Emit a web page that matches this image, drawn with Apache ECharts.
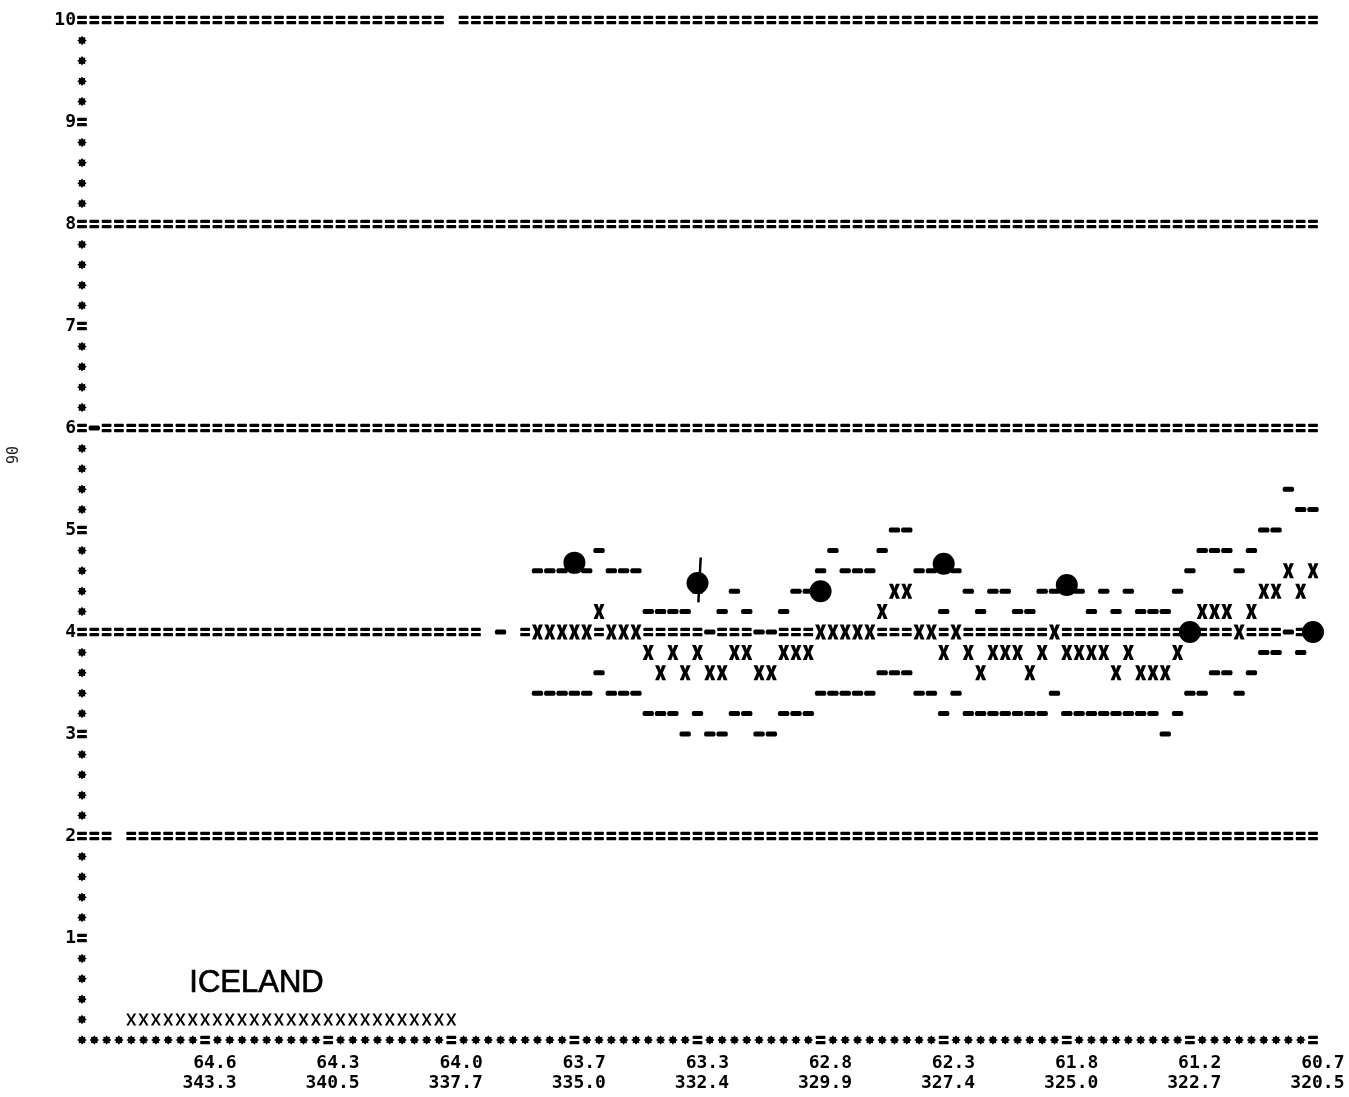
<!DOCTYPE html>
<html>
<head>
<meta charset="utf-8">
<title>ICELAND</title>
<script src="https://cdn.jsdelivr.net/npm/echarts/dist/echarts.min.js"></script>
<style>
  html, body { margin: 0; padding: 0; background: #fff; }
  #chart { width: 1349px; height: 1097px; }
</style>
</head>
<body>
<div id="chart"></div>
<script>
// ---- track positions (printer columns) and their lat / lon labels ----
const tickCols = [10, 20, 30, 40, 50, 60, 70, 80, 90, 100];
const tickLat = ['64.6', '64.3', '64.0', '63.7', '63.3', '62.8', '62.3', '61.8', '61.2', '60.7'];
const tickLon = ['343.3', '340.5', '337.7', '335.0', '332.4', '329.9', '327.4', '325.0', '322.7', '320.5'];

// ---- computed profile, one value per printer column from firstCol onward ----
const firstCol = 37;
const meanVals = [
  4.0, 4.0, 4.0, 4.0, 4.0, 4.2, 4.0, 4.0, 4.0, 3.8,
  3.6, 3.8, 3.6, 3.8, 3.6, 3.6, 3.8, 3.8, 3.6, 3.6,
  3.8, 3.8, 3.8, 4.0, 4.0, 4.0, 4.0, 4.0, 4.2, 4.4,
  4.4, 4.0, 4.0, 3.8, 4.0, 3.8, 3.6, 3.8, 3.8, 3.8,
  3.6, 3.8, 4.0, 3.8, 3.8, 3.8, 3.8, 3.6, 3.8, 3.6,
  3.6, 3.6, 3.8, 4.0, 4.2, 4.2, 4.2, 4.0, 4.2, 4.4,
  4.4, 4.6, 4.4, 4.6
];
const upperVals = [
  4.6, 4.6, 4.6, 4.6, 4.6, 4.8, 4.6, 4.6, 4.6, 4.2,
  4.2, 4.2, 4.2, 4.4, 4.0, 4.2, 4.4, 4.2, 4.0, 4.0,
  4.2, 4.4, 4.4, 4.6, 4.8, 4.6, 4.6, 4.6, 4.8, 5.0,
  5.0, 4.6, 4.6, 4.2, 4.6, 4.4, 4.2, 4.4, 4.4, 4.2,
  4.2, 4.4, 4.4, 4.4, 4.4, 4.2, 4.4, 4.2, 4.4, 4.2,
  4.2, 4.2, 4.4, 4.6, 4.8, 4.8, 4.8, 4.6, 4.8, 5.0,
  5.0, 5.4, 5.2, 5.2
];
const lowerVals = [
  3.4, 3.4, 3.4, 3.4, 3.4, 3.6, 3.4, 3.4, 3.4, 3.2,
  3.2, 3.2, 3.0, 3.2, 3.0, 3.0, 3.2, 3.2, 3.0, 3.0,
  3.2, 3.2, 3.2, 3.4, 3.4, 3.4, 3.4, 3.4, 3.6, 3.6,
  3.6, 3.4, 3.4, 3.2, 3.4, 3.2, 3.2, 3.2, 3.2, 3.2,
  3.2, 3.2, 3.4, 3.2, 3.2, 3.2, 3.2, 3.2, 3.2, 3.2,
  3.2, 3.0, 3.2, 3.4, 3.4, 3.6, 3.6, 3.4, 3.6, 3.8,
  3.8, 4.0, 3.8, 4.0
];

// ---- measured values at the labelled stations ----
const obsCols = [40, 50, 60, 70, 80, 90, 100];
const obsVals = [4.68, 4.48, 4.40, 4.67, 4.46, 4.00, 4.00];

// pen stroke through the 63.3 N station
const penStroke = [[50.26, 4.73], [50.07, 4.29]];

// ---- land strip (Iceland) printed as a run of x's ----
const landFrom = 4;
const landTo = 30;
const landRow = 0.2;

// ---- page frame: ruled rows of '=' and the few dropped / half-struck characters ----
const ruleRows = [2, 4, 6, 8, 10];
const ruleGaps = [[30, 10], [3, 2], [33, 4], [35, 4]];   // [column, value]
const halfStruck = [[1, 6], [34, 4]];                    // [column, value]

const ROWS_PER_UNIT = 5;   // one printer line = 0.2
const LAST_COL = 100;

// ---- build the character grid ----
const cells = new Map();
const rowOf = v => Math.round(v * ROWS_PER_UNIT);
const key = (c, r) => c + ',' + r;
const put = (c, r, ch) => cells.set(key(c, r), { c, r, ch });

for (let r = 1; r <= 10 * ROWS_PER_UNIT; r++) put(0, r, r % ROWS_PER_UNIT === 0 ? '=' : '*');
for (let c = 0; c <= LAST_COL; c++) put(c, 0, c > 0 && c % 10 === 0 ? '=' : '*');
ruleRows.forEach(v => { for (let c = 0; c <= LAST_COL; c++) put(c, rowOf(v), '='); });
ruleGaps.forEach(([c, v]) => cells.delete(key(c, rowOf(v))));
halfStruck.forEach(([c, v]) => put(c, rowOf(v), '-'));
meanVals.forEach((m, i) => {
  const c = firstCol + i;
  put(c, rowOf(upperVals[i]), '-');
  put(c, rowOf(lowerVals[i]), '-');
  put(c, rowOf(m), 'X');
});

const byChar = { '=': [], '*': [], '-': [], 'X': [] };
cells.forEach(({ c, r, ch }) => byChar[ch].push([c, r / ROWS_PER_UNIT]));

const landPts = [];
for (let c = landFrom; c <= landTo; c++) landPts.push([c, landRow]);

// ---- glyph shapes for the printer characters ----
const EQ = 'path://M0.8,0 L9.2,0 Q10,0 10,1.6 Q10,3.2 9.2,3.2 L0.8,3.2 Q0,3.2 0,1.6 Q0,0 0.8,0 Z' +
           'M0.8,5.3 L9.2,5.3 Q10,5.3 10,6.9 Q10,8.5 9.2,8.5 L0.8,8.5 Q0,8.5 0,6.9 Q0,5.3 0.8,5.3 Z';
const DASH = 'path://M1.5,0 L9.5,0 Q11,0 11,2 Q11,4 9.5,4 L1.5,4 Q0,4 0,2 Q0,0 1.5,0 Z';
const CROSS = 'path://M0,0 L3.6,0 L5,4.2 L6.4,0 L10,0 L7,7 L10,14 L6.4,14 L5,9.8 L3.6,14 L0,14 L3,7 Z';
const CROSS_THIN = 'path://M0,0 L2.4,0 L5,5 L7.6,0 L10,0 L6.3,6.5 L10,13 L7.6,13 L5,8 L2.4,13 L0,13 L3.7,6.5 Z';
const STAR = (() => {
  let d = '';
  for (let i = 0; i < 16; i++) {
    const a = Math.PI * i / 8;
    const rad = i % 2 ? 3.4 : 5;
    d += (i ? 'L' : 'M') + (5 + rad * Math.cos(a)).toFixed(2) + ',' + (5 + rad * Math.sin(a)).toFixed(2);
  }
  return 'path://' + d + 'Z';
})();

const INK = '#000000';
const MONO = '"DejaVu Sans Mono", "Liberation Mono", monospace';

const glyphSeries = (name, data, symbol, size, z) => ({
  name, type: 'scatter', data, symbol, symbolSize: size, symbolKeepAspect: false,
  itemStyle: { color: INK, opacity: 1 }, z, silent: true
});

const chart = echarts.init(document.getElementById('chart'), null, { renderer: 'canvas' });

chart.setOption({
  animation: false,
  backgroundColor: '#ffffff',
  grid: { left: 82, right: 36, top: 20, bottom: 57 },
  xAxis: {
    type: 'value', min: 0, max: LAST_COL,
    axisLine: { show: false }, axisTick: { show: false },
    axisLabel: { show: false }, splitLine: { show: false }
  },
  yAxis: {
    type: 'value', min: 0, max: 10, interval: 1,
    axisLine: { show: false }, axisTick: { show: false }, splitLine: { show: false },
    axisLabel: {
      margin: 6,
      formatter: v => (v === 0 ? '' : String(v)),
      fontFamily: MONO, fontWeight: 'bold', fontSize: 18, color: INK
    }
  },
  graphic: [
    {
      type: 'text', left: 189, top: 968, silent: true,
      style: {
        text: 'ICELAND', font: '31px "Liberation Sans", Arial, sans-serif',
        fill: INK, stroke: INK, lineWidth: 0.7
      }
    },
    {
      type: 'text', x: 14, y: 455, rotation: Math.PI / 2, silent: true,
      style: {
        text: '90', font: '15px ' + MONO, fill: '#222',
        align: 'center', verticalAlign: 'middle',
        textAlign: 'center', textVerticalAlign: 'middle'
      }
    }
  ],
  series: [
    glyphSeries('rule', byChar['='], EQ, [10, 8.5], 2),
    glyphSeries('frame', byChar['*'], STAR, [9.5, 9.5], 2),
    glyphSeries('bounds', byChar['-'], DASH, [11.5, 5], 3),
    glyphSeries('mean', byChar['X'], CROSS, [11, 15], 3),
    glyphSeries('land', landPts, CROSS_THIN, [10, 12], 3),
    {
      name: 'observed', type: 'scatter', silent: true, z: 5,
      data: obsCols.map((c, i) => [c, obsVals[i]]),
      symbol: 'circle', symbolSize: 22,
      itemStyle: { color: INK, opacity: 1 }
    },
    {
      name: 'pen', type: 'line', silent: true, z: 6,
      data: penStroke, symbol: 'none',
      lineStyle: { color: INK, width: 2.5, opacity: 1 }
    },
    {
      name: 'stations', type: 'scatter', silent: true, z: 1,
      data: tickCols.map((c, i) => ({ value: [c, 0], lat: tickLat[i], lon: tickLon[i] })),
      symbolSize: 1, itemStyle: { color: 'rgba(0,0,0,0)', opacity: 1 },
      label: {
        show: true, position: [32, 14], align: 'right', verticalAlign: 'top',
        formatter: p => p.data.lat + '\n' + p.data.lon,
        fontFamily: MONO, fontWeight: 'bold', fontSize: 18, lineHeight: 20,
        color: INK, opacity: 1
      }
    }
  ]
});
</script>
</body>
</html>
